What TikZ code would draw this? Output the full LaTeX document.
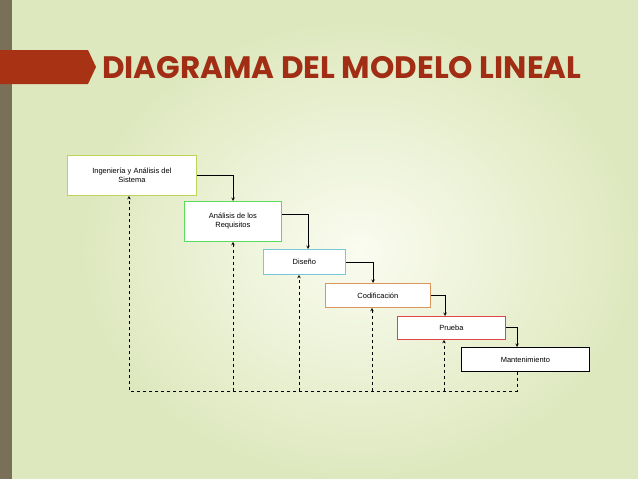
\documentclass[tikz,border=0pt]{standalone}
\usepackage{fontspec}
\setmainfont{Liberation Sans}
\newfontfamily\titlefont{Poppins}
\usetikzlibrary{positioning}
\definecolor{bgout}{RGB}{222,232,190}
\definecolor{bgin}{RGB}{250,252,240}
\definecolor{bandred}{RGB}{168,50,20}
\definecolor{stripgray}{RGB}{122,112,88}
\definecolor{titlered}{RGB}{160,45,20}
\definecolor{boxlime}{RGB}{190,210,90}
\definecolor{boxgreen}{RGB}{90,220,90}
\definecolor{boxcyan}{RGB}{120,200,215}
\definecolor{boxorange}{RGB}{220,150,90}
\definecolor{boxred}{RGB}{225,70,70}
\tikzset{
  step/.style={draw=#1, thick, fill=white, align=center, font=\fontsize{7.5}{9}\selectfont, inner sep=0pt},
  flow/.style={->, >=stealth, semithick},
  back/.style={->, >=stealth, semithick, dashed}
}
\begin{document}
\begin{tikzpicture}[x=1pt,y=-1pt]
\useasboundingbox (0,0) rectangle (638,479);
\fill[bgout] (0,0) rectangle (638,479);
\shade[inner color=bgin, outer color=bgout] (80,20) rectangle (638,479);
\fill[stripgray] (0,0) rectangle (12,479);
\fill[bandred] (0,50) -- (88,50) -- (96,67) -- (88,84) -- (0,84) -- cycle;
\node[anchor=west, text=titlered, font=\titlefont\bfseries\fontsize{31}{32}\selectfont, inner sep=0pt] (title) at (102,68) {DIAGRAMA DEL MODELO LINEAL};

% steps
\node[step=boxlime, minimum width=129, minimum height=40, anchor=north west] (ing) at (67,155) {Ingeniería y Análisis del\\Sistema};
\node[step=boxgreen, minimum width=97, minimum height=40, anchor=north west] (req) at (184,201) {Análisis de los\\Requisitos};
\node[step=boxcyan, minimum width=82, minimum height=25, anchor=north west] (dis) at (263,249) {Diseño};
\node[step=boxorange, minimum width=105, minimum height=24, anchor=north west] (cod) at (325,283) {Codificación};
\node[step=boxred, minimum width=108, minimum height=23, anchor=north west] (pru) at (397,316) {Prueba};
\node[step=black, minimum width=128, minimum height=24, anchor=north west] (man) at (461,347) {Mantenimiento};

% forward flow
\draw[flow] (ing.east |- 0,175) -| (req.north -| 233,0);
\draw[flow] (req.east |- 0,214) -| (dis.north -| 308,0);
\draw[flow] (dis.east |- 0,262) -| (cod.north -| 373,0);
\draw[flow] (cod.east |- 0,295) -| (pru.north -| 445,0);
\draw[flow] (pru.east |- 0,327) -| (man.north -| 517,0);

% feedback
\coordinate (fb) at (517,391);
\draw[back] (man.south -| fb) -- (fb) -| (ing.south -| 129,0);
\draw[back] (233,391) -- (req.south -| 233,0);
\draw[back] (299,391) -- (dis.south -| 299,0);
\draw[back] (372,391) -- (cod.south -| 372,0);
\draw[back] (444,391) -- (pru.south -| 444,0);
\end{tikzpicture}
\end{document}
